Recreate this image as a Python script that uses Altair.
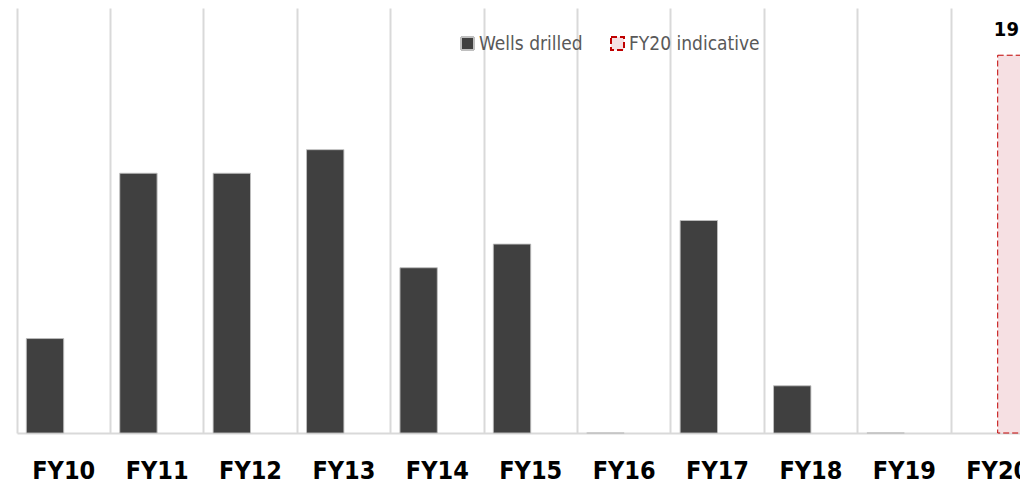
import altair as alt
import pandas as pd

years = ["FY10", "FY11", "FY12", "FY13", "FY14", "FY15", "FY16", "FY17", "FY18", "FY19", "FY20"]
wells_drilled = [4, 11, 11, 12, 7, 8, 0, 9, 2, 0]
indicative_years = ["FY20"]
indicative_values = [16]
indicative_labels = ["19"]
series = ["Wells drilled", "FY20 indicative"]

rows = [{"year": y, "series": series[0], "value": v, "label": ""} for y, v in zip(years, wells_drilled)]
rows += [{"year": y, "series": series[1], "value": v, "label": l}
         for y, v, l in zip(indicative_years, indicative_values, indicative_labels)]
df = pd.DataFrame(rows)

FONT = "'Liberation Sans Narrow', 'Arial Narrow', 'DejaVu Sans Condensed', 'Liberation Sans', sans-serif"
STEP = 93.4
W = 1003
H = 425

x_enc = alt.X(
    "year:N",
    sort=years,
    scale=alt.Scale(domain=years, range=[0, STEP * len(years)], paddingInner=0, paddingOuter=0),
    axis=alt.Axis(
        title=None, labelAngle=0, ticks=False, grid=True, bandPosition=0,
        gridColor="#d9d9d9", gridWidth=2, domainColor="#d9d9d9", domainWidth=2,
        labelFont=FONT, labelFontSize=25, labelFontWeight="bold", labelColor="#000000",
        labelPadding=25,
    ),
)
xoff = alt.XOffset("series:N", sort=series,
                   scale=alt.Scale(domain=series, paddingInner=0, paddingOuter=0.25))
y_enc = alt.Y("value:Q", scale=alt.Scale(domain=[0, 18]), axis=None)

bars = alt.Chart(df).mark_bar(strokeWidth=1).encode(
    x=x_enc,
    xOffset=xoff,
    y=y_enc,
    color=alt.Color("series:N", sort=series,
                    scale=alt.Scale(domain=series, range=["#404040", "#f6e0e3"]), title=None),
    stroke=alt.Stroke("series:N", sort=series,
                      scale=alt.Scale(domain=series, range=["#bfbfbf", "#c00000"]), title=None),
    strokeDash=alt.StrokeDash("series:N", sort=series,
                              scale=alt.Scale(domain=series, range=[[1, 0], [6, 3]]), title=None),
)

labels = alt.Chart(df).transform_filter(alt.datum.label != "").mark_text(
    baseline="bottom", dy=-15, dx=-10, font=FONT, fontSize=20, fontWeight="bold", color="#000000"
).encode(
    x=alt.X("year:N", sort=years),
    xOffset=alt.XOffset("series:N", sort=series),
    y="value:Q",
    text="label:N",
)

chart = alt.layer(bars, labels).properties(
    width=W, height=H,
    autosize=alt.AutoSizeParams(type="none"),
    padding={"left": 9, "top": 0, "right": 0, "bottom": 60},
).configure_view(stroke=None).configure_legend(
    orient="none", legendX=441, legendY=26, direction="horizontal",
    symbolType="square", symbolSize=169, symbolStrokeWidth=2,
    labelFont=FONT, labelFontSize=19, labelColor="#595959",
    columnPadding=24, padding=0, labelOffset=2,
)

chart.save("out.html", embed_options={"renderer": "svg", "actions": False})
